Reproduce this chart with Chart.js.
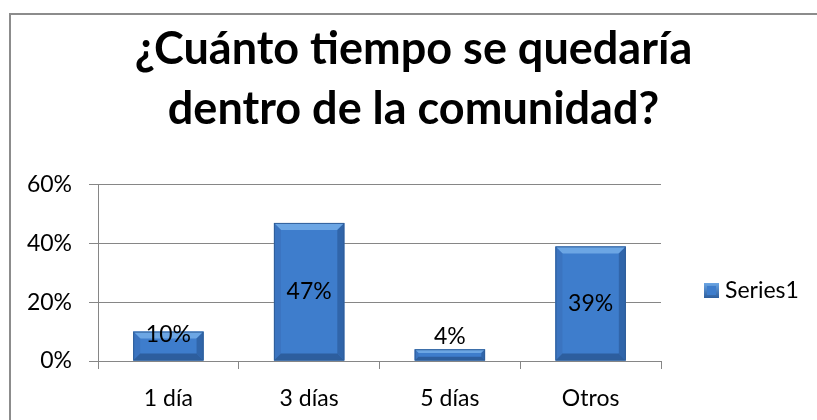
<!DOCTYPE html>
<html>
<head>
<meta charset="utf-8">
<script src="https://cdn.jsdelivr.net/npm/chart.js@4.4.1/dist/chart.umd.min.js"></script>
<style>
  body { margin: 0; background: #fff; }
  #wrap { position: relative; width: 817px; height: 420px; overflow: hidden; }
  #frame {
    position: absolute; left: 9px; top: 13px; width: 900px; height: 500px;
    border: 2px solid #8c8c8c; box-sizing: border-box;
  }
  canvas { position: absolute; left: 0; top: 0; }
</style>
</head>
<body>
<div id="wrap">
  <div id="frame"></div>
  <canvas id="my-chart" width="817" height="420"></canvas>
</div>
<script>
"use strict";
const categories = ["1 día", "3 días", "5 días", "Otros"];
const seriesName = "Series1";
const values = [0.10, 0.47, 0.04, 0.39];
const titleLines = ["¿Cuánto tiempo se quedaría", "dentro de la comunidad?"];

const FONT = "Lato, 'Open Sans', sans-serif";
const gridColor = "#868686";

function pct(v) {
  return Math.round(v * 100) + "%";
}

// bevel look like the office chart
const bevelPlugin = {
  id: "bevel",
  afterDatasetsDraw(chart) {
    const ctx = chart.ctx;
    const meta = chart.getDatasetMeta(0);
    meta.data.forEach(function (bar) {
      const left = bar.x - bar.width / 2;
      const right = bar.x + bar.width / 2;
      const top = bar.y;
      const bottom = bar.base;
      const b = Math.min(7, (bottom - top) / 3);
      ctx.save();
      // top
      ctx.fillStyle = "#6ca6e4";
      ctx.beginPath();
      ctx.moveTo(left, top);
      ctx.lineTo(right, top);
      ctx.lineTo(right - b, top + b);
      ctx.lineTo(left + b, top + b);
      ctx.closePath();
      ctx.fill();
      // left
      ctx.fillStyle = "#3b74c0";
      ctx.beginPath();
      ctx.moveTo(left, top);
      ctx.lineTo(left + b, top + b);
      ctx.lineTo(left + b, bottom - b);
      ctx.lineTo(left, bottom);
      ctx.closePath();
      ctx.fill();
      // right
      ctx.fillStyle = "#3065aa";
      ctx.beginPath();
      ctx.moveTo(right, top);
      ctx.lineTo(right - b, top + b);
      ctx.lineTo(right - b, bottom - b);
      ctx.lineTo(right, bottom);
      ctx.closePath();
      ctx.fill();
      // bottom
      ctx.fillStyle = "#2d5e9e";
      ctx.beginPath();
      ctx.moveTo(left, bottom);
      ctx.lineTo(left + b, bottom - b);
      ctx.lineTo(right - b, bottom - b);
      ctx.lineTo(right, bottom);
      ctx.closePath();
      ctx.fill();
      ctx.strokeStyle = "#2f5e99";
      ctx.lineWidth = 1;
      ctx.strokeRect(left + 0.5, top + 0.5, right - left - 1, bottom - top - 1);
      ctx.restore();
    });
  },
};

// value labels: centered, pushed up on short bars, above on tiny ones
const labelPlugin = {
  id: "valueLabels",
  afterDraw(chart) {
    const ctx = chart.ctx;
    const meta = chart.getDatasetMeta(0);
    ctx.save();
    ctx.font = "23px " + FONT;
    ctx.fillStyle = "#000";
    ctx.textAlign = "center";
    ctx.textBaseline = "middle";
    meta.data.forEach(function (bar, i) {
      const h = bar.base - bar.y;
      let y;
      if (h < 20) {
        y = bar.y - 13;
      } else if (h < 40) {
        y = bar.y + 3;
      } else {
        y = (bar.y + bar.base) / 2;
      }
      ctx.fillText(pct(chart.data.datasets[0].data[i]), bar.x, y);
    });
    ctx.restore();
  },
};

// legend drawn in the space kept by the right dummy axis
const legendPlugin = {
  id: "sideLegend",
  afterDraw(chart) {
    const ctx = chart.ctx;
    const x = chart.chartArea.right + 43;
    const y = 290;
    ctx.save();
    const g = ctx.createLinearGradient(0, y - 7, 0, y + 8);
    g.addColorStop(0, "#6ca6e4");
    g.addColorStop(1, "#2d5e9e");
    ctx.fillStyle = g;
    ctx.fillRect(x, y - 7, 15, 15);
    ctx.fillStyle = "#3e7dcc";
    ctx.fillRect(x + 3, y - 4, 9, 9);
    ctx.font = "23px " + FONT;
    ctx.fillStyle = "#000";
    ctx.textBaseline = "middle";
    ctx.fillText(chart.data.datasets[0].label, x + 21, y + 1);
    ctx.restore();
  },
};

const ctx = document.getElementById("my-chart");
const myChart = new Chart(ctx, {
  type: "bar",
  data: {
    labels: categories,
    datasets: [
      {
        label: seriesName,
        data: values,
        backgroundColor: "#3e7dcc",
        borderWidth: 0,
        barPercentage: 0.5,
        categoryPercentage: 1,
      },
    ],
  },
  options: {
    responsive: false,
    animation: false,
    layout: { padding: { left: 10, right: 0, top: 0, bottom: 0 } },
    plugins: {
      legend: { display: false },
      tooltip: { enabled: false },
      title: {
        display: true,
        text: titleLines,
        color: "#000",
        font: { family: FONT, size: 45, weight: "bold", lineHeight: 1.33 },
        padding: { top: 20, bottom: 45 },
      },
    },
    scales: {
      x: {
        afterFit(scale) {
          scale.height = 59;
        },
        grid: {
          offset: true,
          drawOnChartArea: false,
          drawTicks: true,
          tickLength: 8,
          color: gridColor,
        },
        border: { color: gridColor },
        ticks: { color: "#000", padding: 16, font: { family: FONT, size: 23 } },
      },
      y: {
        min: 0,
        max: 0.6,
        afterFit(scale) {
          scale.width = 88;
        },
        grid: { color: gridColor, tickLength: 9 },
        border: { color: gridColor },
        ticks: {
          stepSize: 0.2,
          color: "#000",
          padding: 17,
          font: { family: FONT, size: 23 },
          callback: function (v) {
            return pct(v);
          },
        },
      },
      // empty axis on the right, keeps room for the legend
      side: {
        position: "right",
        min: 0,
        max: 1,
        afterFit(scale) {
          scale.width = 156;
        },
        grid: { display: false },
        border: { display: false },
        ticks: { display: false },
      },
    },
  },
  plugins: [bevelPlugin, labelPlugin, legendPlugin],
});
</script>
</body>
</html>
